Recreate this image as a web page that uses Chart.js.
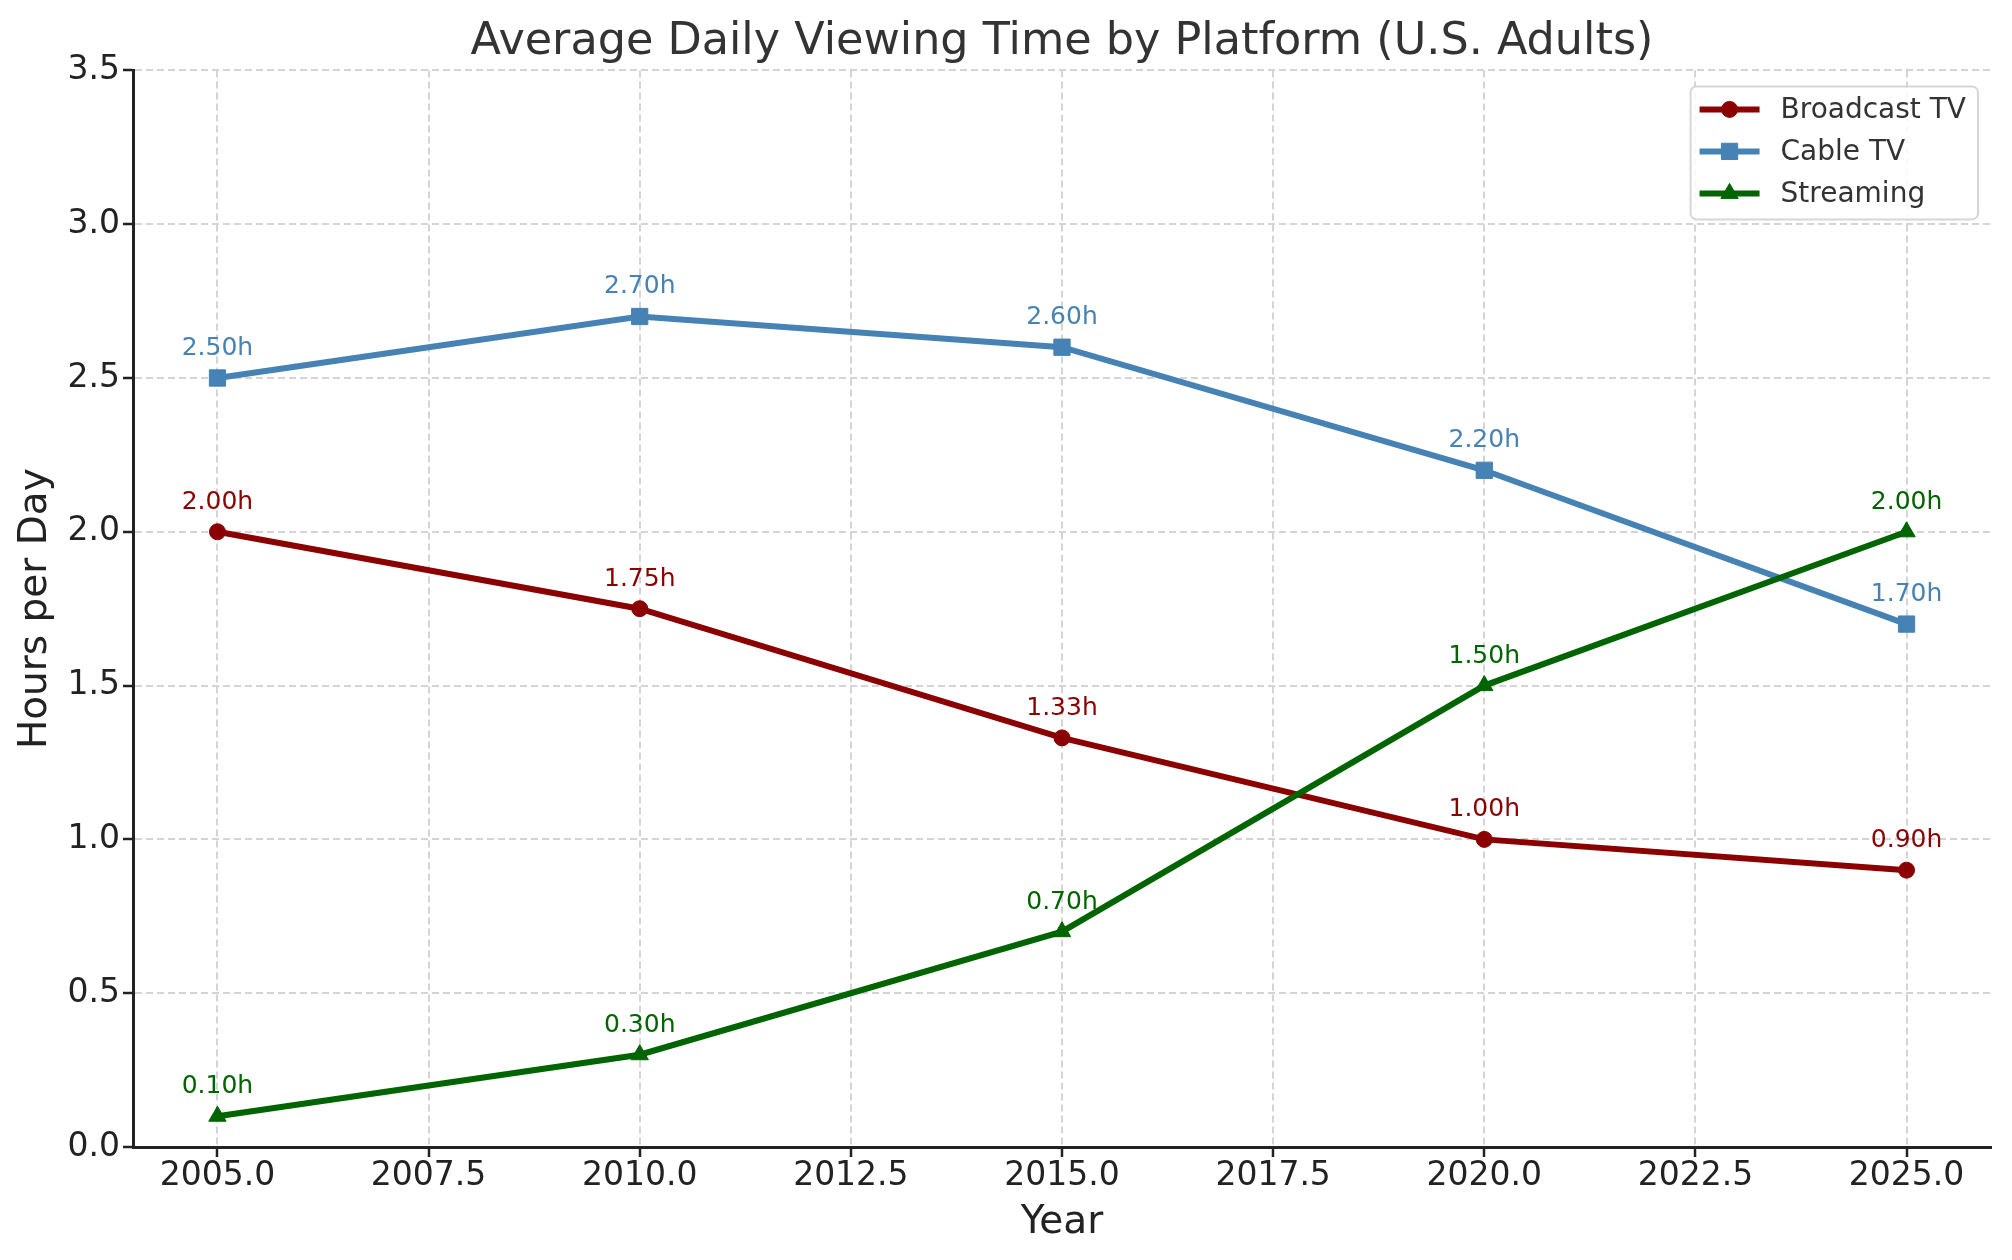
<!DOCTYPE html>
<html>
<head>
<meta charset="utf-8">
<title>Average Daily Viewing Time by Platform</title>
<script src="https://cdn.jsdelivr.net/npm/chart.js@4.4.0/dist/chart.umd.min.js"></script>
<style>
  html, body { margin: 0; padding: 0; background: #fff; }
  canvas { display: block; }
</style>
</head>
<body>
<canvas id="viewChart" width="2012" height="1260"></canvas>
<script>
// Hours per day
const years = [2005, 2010, 2015, 2020, 2025];
const broadcastHours = [2.00, 1.75, 1.33, 1.00, 0.90];
const cableHours = [2.50, 2.70, 2.60, 2.20, 1.70];
const streamingHours = [0.10, 0.30, 0.70, 1.50, 2.00];

const seriesNames = ['Broadcast TV', 'Cable TV', 'Streaming'];
const xTicks = [2005, 2007.5, 2010, 2012.5, 2015, 2017.5, 2020, 2022.5, 2025];
const yTicks = [0, 0.5, 1.0, 1.5, 2.0, 2.5, 3.0, 3.5];

Chart.defaults.font.family = "'DejaVu Sans', sans-serif";

function toPoints(values) {
    return years.map((yr, i) => ({ x: yr, y: values[i] }));
}

// "2.50h" style labels above every point
const valueLabels = {
    id: 'valueLabels',
    afterDatasetsDraw(chart) {
        const ctx = chart.ctx;
        ctx.save();
        ctx.font = "25px 'DejaVu Sans'";
        ctx.textAlign = 'center';
        ctx.textBaseline = 'alphabetic';
        chart.data.datasets.forEach((ds, i) => {
            const meta = chart.getDatasetMeta(i);
            ctx.fillStyle = ds.borderColor;
            meta.data.forEach((pt, j) => {
                ctx.fillText(ds.data[j].y.toFixed(2) + 'h', pt.x, pt.y - 23);
            });
        });
        ctx.restore();
    }
};

// matplotlib-like legend: short line with the marker in the middle
const lineLegend = {
    id: 'lineLegend',
    afterDraw(chart) {
        const { ctx, chartArea } = chart;
        const datasets = chart.data.datasets;
        ctx.save();
        ctx.font = "28px 'DejaVu Sans'";
        const textW = Math.max(...datasets.map(d => ctx.measureText(d.label).width));
        const boxW = 9 + 60 + 21 + textW + 12;
        const boxH = 133;
        const boxX = chartArea.right - 13 - boxW;
        const boxY = chartArea.top + 16;

        ctx.fillStyle = 'rgba(255,255,255,0.85)';
        ctx.strokeStyle = '#d6d6d6';
        ctx.lineWidth = 2;
        ctx.beginPath();
        ctx.roundRect(boxX, boxY, boxW, boxH, 6);
        ctx.fill();
        ctx.stroke();

        datasets.forEach((ds, i) => {
            const cy = boxY + 23 + i * 42;
            const x1 = boxX + 9, x2 = x1 + 60;
            ctx.strokeStyle = ds.borderColor;
            ctx.fillStyle = ds.borderColor;
            ctx.lineWidth = 6;
            ctx.beginPath();
            ctx.moveTo(x1, cy);
            ctx.lineTo(x2, cy);
            ctx.stroke();
            ctx.lineWidth = 1;
            Chart.helpers.drawPoint(ctx, {
                pointStyle: ds.pointStyle,
                radius: ds.pointRadius,
                borderWidth: 1,
                rotation: 0
            }, (x1 + x2) / 2, cy);
            ctx.fillStyle = '#333';
            ctx.textAlign = 'left';
            ctx.textBaseline = 'middle';
            ctx.fillText(ds.label, x2 + 21, cy + 1);
        });
        ctx.restore();
    }
};

const ctx = document.getElementById('viewChart').getContext('2d');

const viewChart = new Chart(ctx, {
    type: 'line',
    data: {
        datasets: [
            {
                label: seriesNames[0],
                data: toPoints(broadcastHours),
                borderColor: '#8B0000',
                backgroundColor: '#8B0000',
                pointStyle: 'circle',
                pointRadius: 8,
                order: 3
            },
            {
                label: seriesNames[1],
                data: toPoints(cableHours),
                borderColor: '#4682B4',
                backgroundColor: '#4682B4',
                pointStyle: 'rect',
                pointRadius: 11.5,
                order: 2
            },
            {
                label: seriesNames[2],
                data: toPoints(streamingHours),
                borderColor: '#006400',
                backgroundColor: '#006400',
                pointStyle: 'triangle',
                pointRadius: 10,
                order: 1
            }
        ]
    },
    options: {
        responsive: false,
        animation: false,
        devicePixelRatio: 1,
        elements: {
            line: { borderWidth: 6, tension: 0, fill: false },
            point: { borderWidth: 1, hoverRadius: 8 }
        },
        layout: { padding: { left: 0, right: 21, top: 0, bottom: 0 } },
        scales: {
            x: {
                type: 'linear',
                min: 2004,
                max: 2026,
                afterBuildTicks: s => { s.ticks = xTicks.map(v => ({ value: v })); },
                afterFit: s => { s.height = 113; },
                ticks: {
                    color: '#222',
                    font: { size: 33 },
                    padding: 0,
                    maxRotation: 0,
                    autoSkip: false,
                    callback: v => Number(v).toFixed(1)
                },
                grid: {
                    color: '#d4d4d4',
                    lineWidth: 2,
                    tickColor: '#222',
                    tickLength: 10,
                    tickWidth: 2.5
                },
                border: { color: '#222', width: 3, dash: [7, 4] },
                title: {
                    display: true,
                    text: 'Year',
                    color: '#222',
                    font: { size: 39 },
                    padding: { top: 0, bottom: 14 }
                }
            },
            y: {
                min: 0,
                max: 3.5,
                afterBuildTicks: s => { s.ticks = yTicks.map(v => ({ value: v })); },
                afterFit: s => { s.width = 133; },
                ticks: {
                    color: '#222',
                    font: { size: 33 },
                    padding: 3,
                    callback: v => Number(v).toFixed(1)
                },
                grid: {
                    color: '#d4d4d4',
                    lineWidth: 2,
                    tickColor: '#222',
                    tickLength: 10,
                    tickWidth: 2.5
                },
                border: { color: '#222', width: 3, dash: [7, 4] },
                title: {
                    display: true,
                    text: 'Hours per Day',
                    color: '#222',
                    font: { size: 39 },
                    padding: { top: 12, bottom: 0 }
                }
            }
        },
        plugins: {
            legend: { display: false },
            tooltip: { enabled: false },
            title: {
                display: true,
                fullSize: false,
                text: 'Average Daily Viewing Time by Platform (U.S. Adults)',
                color: '#333',
                font: { size: 44.5, weight: 'normal' },
                padding: { top: 16, bottom: 1 }
            }
        }
    },
    plugins: [valueLabels, lineLegend]
});
</script>
</body>
</html>
